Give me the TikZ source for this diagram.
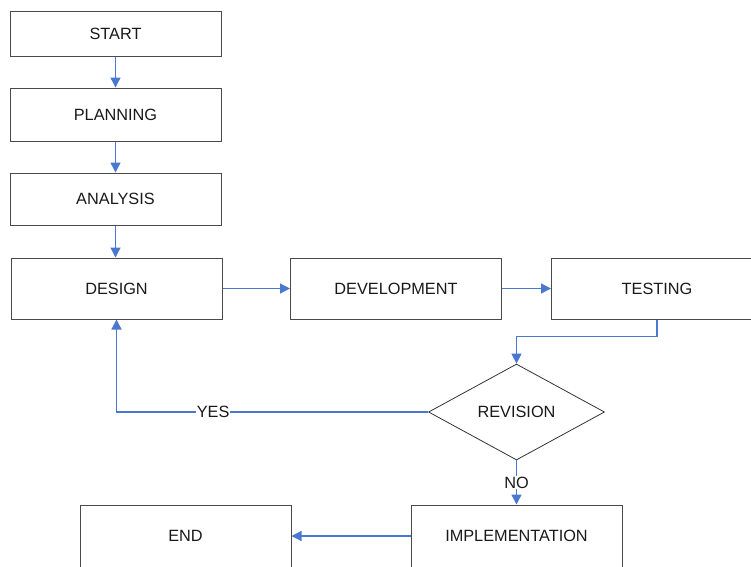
\documentclass[tikz,border=0pt]{standalone}
\usepackage{fontspec}
\setmainfont{Liberation Sans}
\usetikzlibrary{arrows.meta,shapes.geometric}
\definecolor{flowblue}{HTML}{4A78D0}
\definecolor{boxgray}{HTML}{4A4A4A}
\tikzstyle{stage}=[rectangle,draw=boxgray,line width=1pt,minimum width=211pt,inner sep=0pt,text=black!90,font=\fontsize{16.3}{19}\selectfont]
\tikzstyle{decision}=[diamond,draw=black!80,line width=0.8pt,minimum width=176pt,minimum height=96pt,inner sep=0pt,text=black!90,font=\fontsize{16.3}{19}\selectfont]
\tikzstyle{flow}=[draw=flowblue,line width=1.3pt,-{Triangle[length=10pt,width=10pt]}]
\tikzstyle{tag}=[fill=white,inner sep=1pt,text=black!90,font=\fontsize{16.3}{19}\selectfont]

\begin{document}
\begin{tikzpicture}[x=1pt,y=-1pt]
    % page size of the reference, cut at its edges
    \useasboundingbox (0,0) rectangle (751,566);
    \clip (0,0) rectangle (751,566);
    % First the stages
    \foreach \pos/\name/\h/\txt in {{(115.5,33.5)/start/45/START}, {(115.5,114.5)/planning/53/PLANNING}, {(115.5,199)/analysis/52/ANALYSIS}, {(116.5,288.5)/design/61/DESIGN}, {(396,288.5)/development/61/DEVELOPMENT}, {(657,288.5)/testing/61/TESTING}, {(185.5,536)/end/62/END}, {(516.5,536)/implementation/62/IMPLEMENTATION}}
        \node[stage,minimum height=\h pt] (\name) at \pos {\txt};
    \node[decision] (revision) at (516.5,412) {REVISION};
    % Connect the stages
    \path[flow] (start) -- (planning);
    \path[flow] (planning) -- (analysis);
    \path[flow] (analysis.south) -- (analysis.south |- design.north);
    \foreach \source/\dest in {design/development, development/testing, implementation/end}
        \path[flow] (\source) -- (\dest);
    \path[flow] (testing.south) -- ++(0,17) -| (revision.north);
    \path[flow] (revision.west) -| node[tag,pos=0.345] {YES} (design.south);
    \path[flow] (revision.south) -- node[tag] {NO} (implementation.north);
\end{tikzpicture}
\end{document}
